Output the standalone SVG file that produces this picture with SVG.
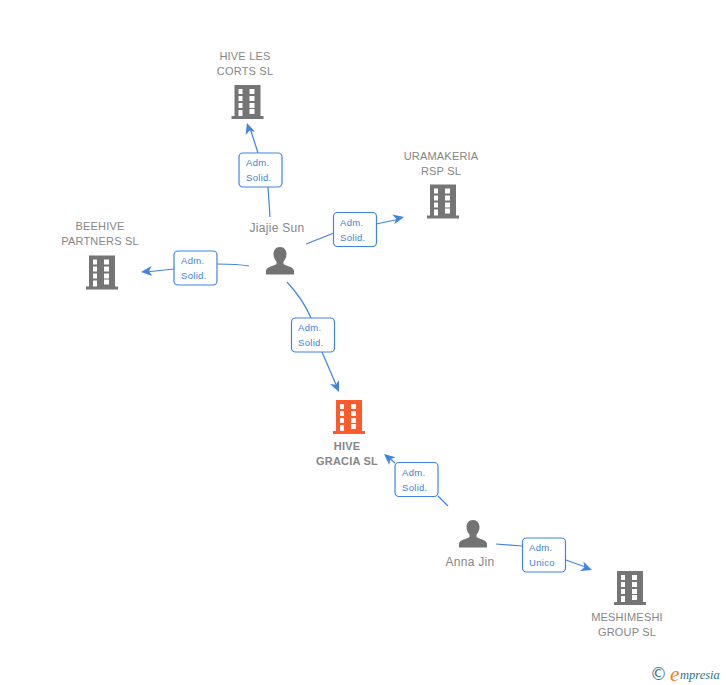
<svg xmlns="http://www.w3.org/2000/svg" width="728" height="685" viewBox="0 0 728 685">
<style>
text{font-family:"Liberation Sans",Arial,sans-serif}
.n{font-size:11px;fill:#868686;text-anchor:middle;letter-spacing:.2px}
.p{font-size:12px;fill:#868686;text-anchor:middle;letter-spacing:.3px}
.m{font-size:11px;fill:#868686;text-anchor:middle;font-weight:bold;letter-spacing:.2px}
.l{font-size:9.5px;fill:#3f7fdc;letter-spacing:.3px}
.b{fill:#fff;stroke:#3f84e5;stroke-width:1.2}
.c{fill:none;stroke:#3f84e5;stroke-width:1.2}
.h{fill:#3f84e5}
</style>
<defs>
<g id="bld">
<path fill-rule="evenodd" d="M-13 -17H13V14H16V17H-16V14H-13ZM-9 -13V-8H-5V-13ZM2 -13V-8H7V-13ZM-9 -6V-1H-5V-6ZM2 -6V-1H7V-6ZM-9 1V6H-5V1ZM2 1V6H7V1ZM-9 8V14H-5V8ZM2 7V12H7V7Z"/>
</g>
<g id="per">
<path fill="#737373" d="M0 -14C-4.500 -14 -6.500 -10.500 -6.500 -7C-6.500 -3.500 -5 -1 -3.500 .5V3C-6 5 -13 5.500 -14 9.500V13.500H14V9.500C13 5.500 6 5 3.500 3V.5C5 -1 6.500 -3.500 6.500 -7C6.500 -10.500 4.500 -14 0 -14Z"/>
</g>
<path id="ah" class="h" d="M0 0L-11 -5L-8 0L-11 5Z"/>
</defs>

<g id="connectors">
<path class="c" d="M270 217L268 187"/><path class="c" d="M258 153L250 128"/><use href="#ah" transform="translate(247,123) rotate(-108)"/>
<path class="c" d="M306 244L334 233"/><path class="c" d="M376 224L400 219"/><use href="#ah" transform="translate(404,217) rotate(-12)"/>
<path class="c" d="M249 266C238 264 228 264 217 264"/><path class="c" d="M174 269L146 272"/><use href="#ah" transform="translate(141,272) rotate(175)"/>
<path class="c" d="M287 282C298 294 306 306 311 318"/><path class="c" d="M322 352L337 387"/><use href="#ah" transform="translate(339,392) rotate(66)"/>
<path class="c" d="M448 506L438 496"/><path class="c" d="M395 463L388 457"/><use href="#ah" transform="translate(384,454) rotate(-140)"/>
<path class="c" d="M496 544L522 546"/><path class="c" d="M566 560L588 568"/><use href="#ah" transform="translate(592,570) rotate(20)"/>
</g>

<g id="edge-labels">
<g><rect class="b" x="239" y="153" width="43" height="34" rx="4"/><text class="l" x="246" y="166">Adm.</text><text class="l" x="246" y="181">Solid.</text></g>
<g><rect class="b" x="333.500" y="212.500" width="43" height="34" rx="4"/><text class="l" x="340" y="226">Adm.</text><text class="l" x="340" y="241">Solid.</text></g>
<g><rect class="b" x="174" y="251" width="43" height="34" rx="4"/><text class="l" x="181" y="264">Adm.</text><text class="l" x="181" y="279">Solid.</text></g>
<g><rect class="b" x="291.500" y="318" width="43" height="34" rx="4"/><text class="l" x="298" y="331">Adm.</text><text class="l" x="298" y="346">Solid.</text></g>
<g><rect class="b" x="395" y="462.500" width="43" height="34" rx="4"/><text class="l" x="402" y="476">Adm.</text><text class="l" x="402" y="491">Solid.</text></g>
<g><rect class="b" x="522.500" y="538" width="43" height="34" rx="4"/><text class="l" x="529" y="551">Adm.</text><text class="l" x="529" y="566">Unico</text></g>
</g>

<g id="hive-les-corts"><text class="n" x="245" y="60">HIVE LES</text><text class="n" x="245" y="75">CORTS  SL</text><use href="#bld" x="247.500" y="102" fill="#757575"/></g>
<g id="uramakeria"><text class="n" x="441" y="160">URAMAKERIA</text><text class="n" x="441" y="175">RSP  SL</text><use href="#bld" x="443" y="201.500" fill="#757575"/></g>
<g id="beehive"><text class="n" x="100" y="230">BEEHIVE</text><text class="n" x="100" y="245">PARTNERS  SL</text><use href="#bld" x="102" y="272.500" fill="#757575"/></g>
<g id="hive-gracia"><use href="#bld" x="349" y="417" fill="#ff5a2c"/><text class="m" x="347" y="450">HIVE</text><text class="m" x="347" y="465">GRACIA  SL</text></g>
<g id="meshimeshi"><use href="#bld" x="630" y="588" fill="#757575"/><text class="n" x="627" y="621">MESHIMESHI</text><text class="n" x="627" y="636">GROUP  SL</text></g>
<g id="jiajie"><text class="p" x="277" y="232">Jiajie Sun</text><use href="#per" x="280" y="261"/></g>
<g id="anna"><use href="#per" x="473" y="534"/><text class="p" x="470" y="566">Anna Jin</text></g>
<g id="empresia"><text x="650" y="680" font-size="17" fill="#3c7a8c" style="font-family:'DejaVu Sans',sans-serif">©</text><text x="670" y="681" font-size="21" fill="#f08020" font-style="italic" style="font-family:'Liberation Serif',serif">e</text><text x="680" y="679" font-size="12.500" fill="#2f7386" font-style="italic" style="font-family:'Liberation Serif',serif">mpresia</text></g>
</svg>
